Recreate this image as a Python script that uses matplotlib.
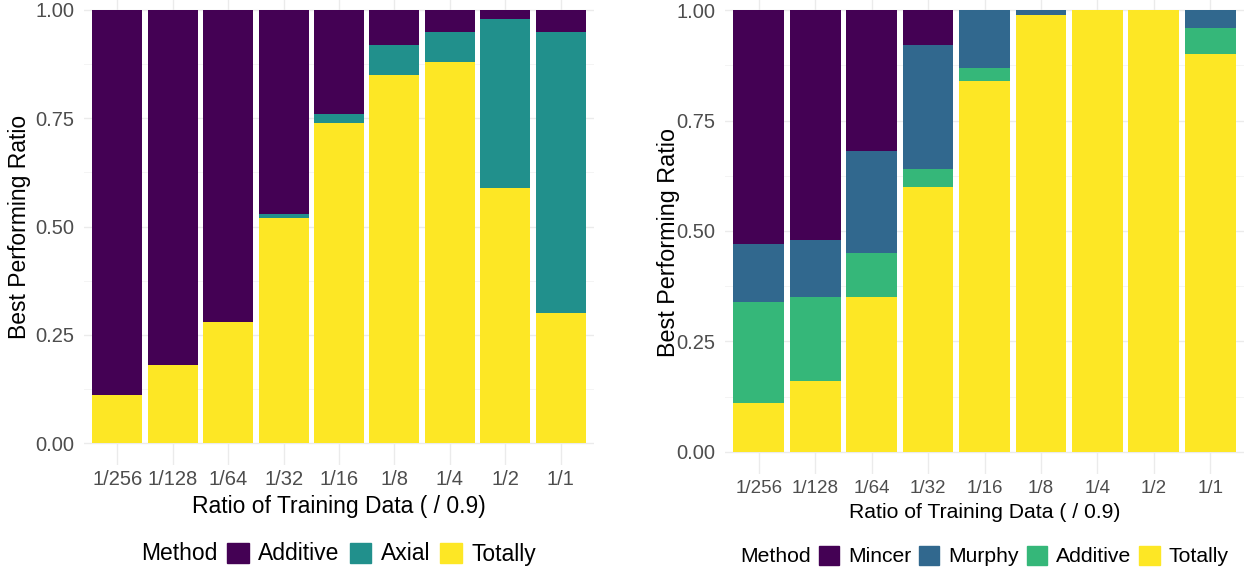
import numpy as np
import matplotlib.pyplot as plt
from matplotlib.patches import Patch

plt.rcParams['font.family'] = ['Liberation Sans', 'DejaVu Sans']

# data
ratios = ['1/256', '1/128', '1/64', '1/32', '1/16', '1/8', '1/4', '1/2', '1/1']

# left panel (bottom to top: Totally, Axial, Additive)
left_totally = [0.11, 0.18, 0.28, 0.52, 0.74, 0.85, 0.88, 0.59, 0.30]
left_axial = [0.00, 0.00, 0.00, 0.01, 0.02, 0.07, 0.07, 0.39, 0.65]
left_additive = [0.89, 0.82, 0.72, 0.47, 0.24, 0.08, 0.05, 0.02, 0.05]

# right panel (bottom to top: Totally, Additive, Murphy, Mincer)
right_totally = [0.11, 0.16, 0.35, 0.60, 0.84, 0.99, 1.00, 1.00, 0.90]
right_additive = [0.23, 0.19, 0.10, 0.04, 0.03, 0.00, 0.00, 0.00, 0.06]
right_murphy = [0.13, 0.13, 0.23, 0.28, 0.13, 0.01, 0.00, 0.00, 0.04]
right_mincer = [0.53, 0.52, 0.32, 0.08, 0.00, 0.00, 0.00, 0.00, 0.00]

c_purple = '#440154'
c_teal = '#21908C'
c_blue = '#31688E'
c_green = '#35B779'
c_yellow = '#FDE725'

W, H = 1245, 573
fig = plt.figure(figsize=(W / 100, H / 100), dpi=100)


def px_axes(x0, x1, ybot, ytop):
    # pixel coords measured from the top of the image
    return fig.add_axes([x0 / W, (H - ybot) / H, (x1 - x0) / W, (ybot - ytop) / H])


def style(ax, xfs, yfs):
    ax.set_xlim(0.4, 9.6)
    ax.set_ylim(-0.05, 1.05)
    ax.set_yticks([0, 0.25, 0.5, 0.75, 1.0])
    ax.set_yticklabels(['0.00', '0.25', '0.50', '0.75', '1.00'])
    ax.set_yticks([0.125, 0.375, 0.625, 0.875], minor=True)
    ax.set_xticks(np.arange(1, 10))
    ax.set_xticklabels(ratios)
    ax.grid(True, which='major', color='#EBEBEB', lw=1.0, zorder=0)
    ax.grid(True, which='minor', axis='y', color='#F2F2F2', lw=0.6, zorder=0)
    ax.set_axisbelow(True)
    for s in ax.spines.values():
        s.set_visible(False)
    ax.tick_params(which='both', length=0)
    ax.tick_params(axis='y', labelsize=yfs, labelcolor='#4D4D4D', pad=7)
    ax.tick_params(axis='x', labelsize=xfs, labelcolor='#4D4D4D', pad=4)


x = np.arange(1, 10)

# left panel
ax1 = px_axes(84, 594, 464.7, -11.7)
b = np.zeros(9)
for vals, col in [(left_totally, c_yellow), (left_axial, c_teal), (left_additive, c_purple)]:
    ax1.bar(x, vals, bottom=b, width=0.9, color=col, zorder=2)
    b = b + np.array(vals)
style(ax1, 14.5, 14.5)

# right panel
ax2 = px_axes(725, 1244, 474, -12)
b = np.zeros(9)
for vals, col in [(right_totally, c_yellow), (right_additive, c_green),
                  (right_murphy, c_blue), (right_mincer, c_purple)]:
    ax2.bar(x, vals, bottom=b, width=0.9, color=col, zorder=2)
    b = b + np.array(vals)
style(ax2, 13.5, 14.5)

# axis titles
fig.text(20 / W, 1 - 227 / H, 'Best Performing Ratio', rotation=90, ha='center', va='center', fontsize=16.5)
fig.text(339 / W, 1 - 507 / H, 'Ratio of Training Data ( / 0.9)', ha='center', va='center', fontsize=16.5)
fig.text(668 / W, 1 - 243 / H, 'Best Performing Ratio', rotation=90, ha='center', va='center', fontsize=16.8)
fig.text(985 / W, 1 - 513 / H, 'Ratio of Training Data ( / 0.9)', ha='center', va='center', fontsize=15.2)

# legends
fig.text(141 / W, 1 - 554 / H, 'Method', ha='left', va='center', fontsize=16.5)
leg1 = fig.legend(handles=[Patch(color=c_purple, label='Additive'),
                           Patch(color=c_teal, label='Axial'),
                           Patch(color=c_yellow, label='Totally')],
                  loc='center left', bbox_to_anchor=(227 / W, 1 - 554 / H), ncol=3,
                  frameon=False, fontsize=16.5, handlelength=0.95, handleheight=0.95,
                  handletextpad=0.4, columnspacing=0.45, borderpad=0, borderaxespad=0)

fig.text(740 / W, 1 - 556 / H, 'Method', ha='left', va='center', fontsize=15.2)
leg2 = fig.legend(handles=[Patch(color=c_purple, label='Mincer'),
                           Patch(color=c_blue, label='Murphy'),
                           Patch(color=c_green, label='Additive'),
                           Patch(color=c_yellow, label='Totally')],
                  loc='center left', bbox_to_anchor=(819 / W, 1 - 556 / H), ncol=4,
                  frameon=False, fontsize=15.2, handlelength=0.95, handleheight=1.0,
                  handletextpad=0.43, columnspacing=0.38, borderpad=0, borderaxespad=0)

fig.savefig('out.png', dpi=100)
